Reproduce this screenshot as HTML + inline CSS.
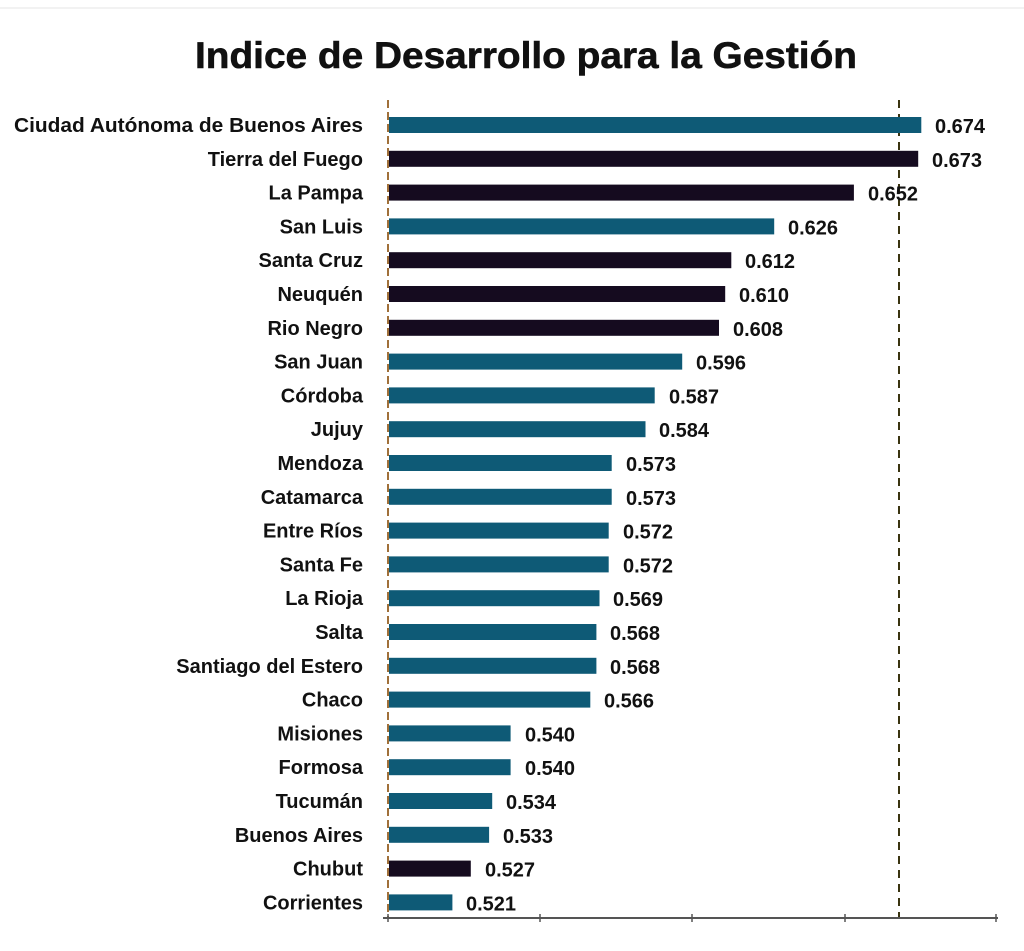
<!DOCTYPE html>
<html><head><meta charset="utf-8"><style>
html,body{margin:0;padding:0;background:#fff;}
svg{display:block;}
</style></head><body>
<svg width="1024" height="951" viewBox="0 0 1024 951" xmlns="http://www.w3.org/2000/svg" font-family="Liberation Sans, sans-serif">
<rect width="1024" height="951" fill="#fff"/>
<line x1="0" y1="8" x2="1024" y2="8" stroke="#e4e4e4" stroke-width="1"/>
<text x="526" y="68" text-anchor="middle" font-size="37" font-weight="bold" fill="#111" stroke="#111" stroke-width="0.6" textLength="662" lengthAdjust="spacingAndGlyphs">Indice de Desarrollo para la Gestión</text>
<line x1="899" y1="100" x2="899" y2="918" stroke="#3a3410" stroke-width="2" stroke-dasharray="8,6"/>
<line x1="388" y1="100" x2="388" y2="918" stroke="#a0703a" stroke-width="2" stroke-dasharray="8,4"/>
<line x1="383" y1="918" x2="998" y2="918" stroke="#555" stroke-width="2"/>
<g stroke="#555" stroke-width="1.5">
<line x1="388" y1="914" x2="388" y2="922"/><line x1="540" y1="914" x2="540" y2="922"/><line x1="692" y1="914" x2="692" y2="922"/><line x1="845" y1="914" x2="845" y2="922"/><line x1="996" y1="914" x2="996" y2="922"/>
</g>
<g>
<rect x="389" y="117" width="532.3" height="16" fill="#0e5a76"/>
<rect x="389" y="150.8" width="529.2" height="16" fill="#150b1f"/>
<rect x="389" y="184.6" width="464.9" height="16" fill="#150b1f"/>
<rect x="389" y="218.4" width="385.2" height="16" fill="#0e5a76"/>
<rect x="389" y="252.2" width="342.3" height="16" fill="#150b1f"/>
<rect x="389" y="286" width="336.2" height="16" fill="#150b1f"/>
<rect x="389" y="319.8" width="330" height="16" fill="#150b1f"/>
<rect x="389" y="353.6" width="293.2" height="16" fill="#0e5a76"/>
<rect x="389" y="387.4" width="265.7" height="16" fill="#0e5a76"/>
<rect x="389" y="421.2" width="256.5" height="16" fill="#0e5a76"/>
<rect x="389" y="455" width="222.7" height="16" fill="#0e5a76"/>
<rect x="389" y="488.8" width="222.7" height="16" fill="#0e5a76"/>
<rect x="389" y="522.6" width="219.7" height="16" fill="#0e5a76"/>
<rect x="389" y="556.4" width="219.7" height="16" fill="#0e5a76"/>
<rect x="389" y="590.2" width="210.5" height="16" fill="#0e5a76"/>
<rect x="389" y="624" width="207.4" height="16" fill="#0e5a76"/>
<rect x="389" y="657.8" width="207.4" height="16" fill="#0e5a76"/>
<rect x="389" y="691.6" width="201.3" height="16" fill="#0e5a76"/>
<rect x="389" y="725.4" width="121.6" height="16" fill="#0e5a76"/>
<rect x="389" y="759.2" width="121.6" height="16" fill="#0e5a76"/>
<rect x="389" y="793" width="103.2" height="16" fill="#0e5a76"/>
<rect x="389" y="826.8" width="100.1" height="16" fill="#0e5a76"/>
<rect x="389" y="860.6" width="81.8" height="16" fill="#150b1f"/>
<rect x="389" y="894.4" width="63.4" height="16" fill="#0e5a76"/>
</g>
<g font-size="20" font-weight="bold" fill="#111" text-anchor="end">
<text x="363" y="132" textLength="349" lengthAdjust="spacingAndGlyphs">Ciudad Autónoma de Buenos Aires</text>
<text x="363" y="165.8">Tierra del Fuego</text>
<text x="363" y="199.6">La Pampa</text>
<text x="363" y="233.4">San Luis</text>
<text x="363" y="267.2">Santa Cruz</text>
<text x="363" y="301">Neuquén</text>
<text x="363" y="334.8">Rio Negro</text>
<text x="363" y="368.6">San Juan</text>
<text x="363" y="402.4">Córdoba</text>
<text x="363" y="436.2">Jujuy</text>
<text x="363" y="470">Mendoza</text>
<text x="363" y="503.8">Catamarca</text>
<text x="363" y="537.6">Entre Ríos</text>
<text x="363" y="571.4">Santa Fe</text>
<text x="363" y="605.2">La Rioja</text>
<text x="363" y="639">Salta</text>
<text x="363" y="672.8">Santiago del Estero</text>
<text x="363" y="706.6">Chaco</text>
<text x="363" y="740.4">Misiones</text>
<text x="363" y="774.2">Formosa</text>
<text x="363" y="808">Tucumán</text>
<text x="363" y="841.8">Buenos Aires</text>
<text x="363" y="875.6">Chubut</text>
<text x="363" y="909.4">Corrientes</text>
</g>
<g font-size="20" font-weight="bold" fill="#111">
<text x="935" y="133">0.674</text>
<text x="932" y="166.8">0.673</text>
<text x="868" y="200.6">0.652</text>
<text x="788" y="234.4">0.626</text>
<text x="745" y="268.2">0.612</text>
<text x="739" y="302">0.610</text>
<text x="733" y="335.8">0.608</text>
<text x="696" y="369.6">0.596</text>
<text x="669" y="403.4">0.587</text>
<text x="659" y="437.2">0.584</text>
<text x="626" y="471">0.573</text>
<text x="626" y="504.8">0.573</text>
<text x="623" y="538.6">0.572</text>
<text x="623" y="572.4">0.572</text>
<text x="613" y="606.2">0.569</text>
<text x="610" y="640">0.568</text>
<text x="610" y="673.8">0.568</text>
<text x="604" y="707.6">0.566</text>
<text x="525" y="741.4">0.540</text>
<text x="525" y="775.2">0.540</text>
<text x="506" y="809">0.534</text>
<text x="503" y="842.8">0.533</text>
<text x="485" y="876.6">0.527</text>
<text x="466" y="910.4">0.521</text>
</g>
</svg>
</body></html>
